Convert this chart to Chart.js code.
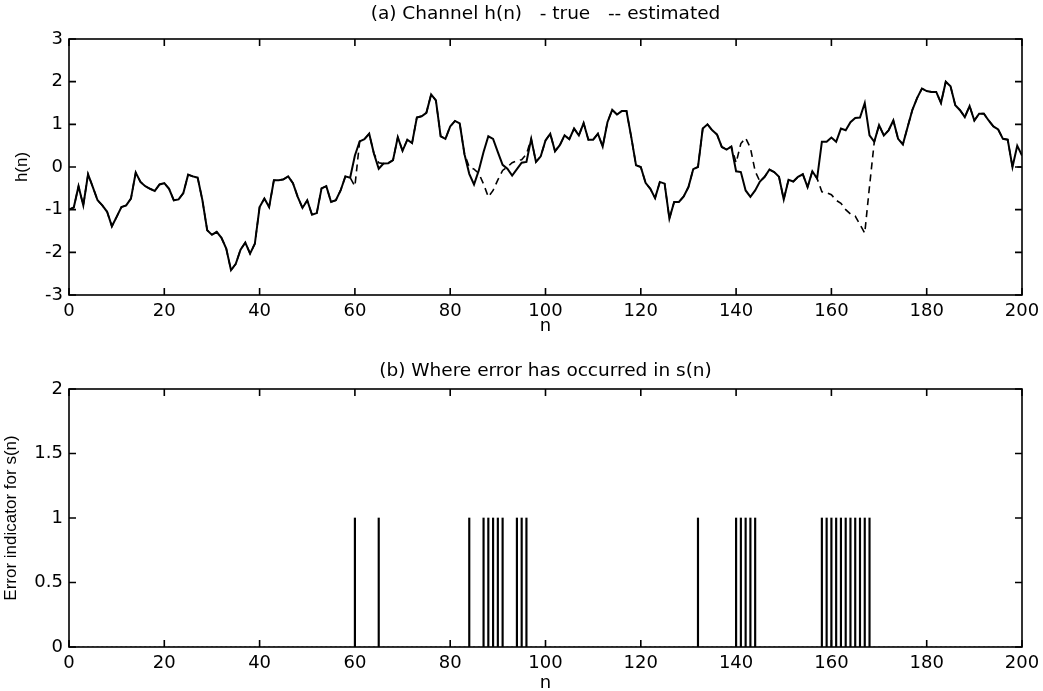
<!DOCTYPE html>
<html>
<head>
<meta charset="utf-8">
<script src="https://cdn.jsdelivr.net/npm/chart.js@4/dist/chart.umd.min.js"></script>
<style>
  html, body { margin: 0; padding: 0; background: #fff; }
  #wrap { position: relative; width: 1043px; height: 691px; overflow: hidden; }
  canvas { position: absolute; left: 0; }
  #top { top: 0; }
  #bottom { top: 340px; }
</style>
</head>
<body>
<div id="wrap">
  <canvas id="top" width="1043" height="340"></canvas>
  <canvas id="bottom" width="1043" height="351"></canvas>
</div>
<script>
// (a) channel h(n), n = 0..200
const hTrue = [
  -1.0, -0.95, -0.45, -0.9, -0.17, -0.47, -0.78, -0.9, -1.05, -1.39,
  -1.17, -0.94, -0.9, -0.74, -0.13, -0.35, -0.45, -0.51, -0.56, -0.41,
  -0.38, -0.51, -0.78, -0.76, -0.61, -0.18, -0.22, -0.25, -0.78, -1.48,
  -1.59, -1.52, -1.66, -1.91, -2.42, -2.27, -1.94, -1.77, -2.03, -1.8,
  -0.94, -0.74, -0.94, -0.31, -0.31, -0.29, -0.22, -0.38, -0.7, -0.96,
  -0.78, -1.12, -1.08, -0.5, -0.45, -0.82, -0.78, -0.55, -0.22, -0.25,
  0.27, 0.6, 0.65, 0.78, 0.31, -0.04, 0.08, 0.09, 0.16, 0.7,
  0.38, 0.64, 0.56, 1.16, 1.19, 1.27, 1.7, 1.56, 0.72, 0.66,
  0.95, 1.08, 1.02, 0.3, -0.16, -0.41, -0.08, 0.35, 0.72, 0.66,
  0.35, 0.05, -0.04, -0.2, -0.05, 0.1, 0.12, 0.66, 0.12, 0.25,
  0.62, 0.78, 0.37, 0.51, 0.74, 0.65, 0.9, 0.74, 1.03, 0.64,
  0.64, 0.78, 0.48, 1.05, 1.34, 1.23, 1.31, 1.31, 0.7, 0.04,
  0.0, -0.37, -0.51, -0.73, -0.35, -0.39, -1.21, -0.82, -0.82, -0.69,
  -0.47, -0.05, 0.0, 0.9, 1.0, 0.86, 0.76, 0.47, 0.41, 0.48,
  -0.1, -0.12, -0.55, -0.7, -0.55, -0.34, -0.23, -0.06, -0.12, -0.23,
  -0.76, -0.3, -0.34, -0.23, -0.17, -0.47, -0.1, -0.27, 0.59, 0.59,
  0.69, 0.59, 0.9, 0.86, 1.05, 1.15, 1.16, 1.5, 0.74, 0.59,
  0.98, 0.74, 0.86, 1.09, 0.66, 0.53, 0.94, 1.34, 1.62, 1.84,
  1.78, 1.76, 1.76, 1.5, 2.0, 1.89, 1.45, 1.33, 1.17, 1.43,
  1.09, 1.25, 1.25, 1.09, 0.95, 0.88, 0.66, 0.64, 0.0, 0.5,
  0.27
];
const hEst = [
  -1.0, -0.95, -0.45, -0.9, -0.17, -0.47, -0.78, -0.9, -1.05, -1.39,
  -1.17, -0.94, -0.9, -0.74, -0.13, -0.35, -0.45, -0.51, -0.56, -0.41,
  -0.38, -0.51, -0.78, -0.76, -0.61, -0.18, -0.22, -0.25, -0.78, -1.48,
  -1.59, -1.52, -1.66, -1.91, -2.42, -2.27, -1.94, -1.77, -2.03, -1.8,
  -0.94, -0.74, -0.94, -0.31, -0.31, -0.29, -0.22, -0.38, -0.7, -0.96,
  -0.78, -1.12, -1.08, -0.5, -0.45, -0.82, -0.78, -0.55, -0.22, -0.25,
  -0.45, 0.6, 0.65, 0.78, 0.31, 0.1, 0.08, 0.09, 0.16, 0.7,
  0.38, 0.64, 0.56, 1.16, 1.19, 1.27, 1.7, 1.56, 0.72, 0.66,
  0.95, 1.08, 1.02, 0.3, 0.0, -0.05, -0.15, -0.4, -0.7, -0.55,
  -0.3, -0.08, 0.0, 0.1, 0.15, 0.17, 0.3, 0.66, 0.12, 0.25,
  0.62, 0.78, 0.37, 0.51, 0.74, 0.65, 0.9, 0.74, 1.03, 0.64,
  0.64, 0.78, 0.48, 1.05, 1.34, 1.23, 1.31, 1.31, 0.7, 0.04,
  0.0, -0.37, -0.51, -0.73, -0.35, -0.39, -1.21, -0.82, -0.82, -0.69,
  -0.47, -0.05, 0.0, 0.9, 1.0, 0.86, 0.76, 0.47, 0.41, 0.48,
  0.1, 0.55, 0.68, 0.45, -0.1, -0.34, -0.23, -0.06, -0.12, -0.23,
  -0.76, -0.3, -0.34, -0.23, -0.17, -0.47, -0.1, -0.27, -0.58, -0.6,
  -0.65, -0.78, -0.85, -1.0, -1.1, -1.15, -1.35, -1.55, -0.45, 0.59,
  0.98, 0.74, 0.86, 1.09, 0.66, 0.53, 0.94, 1.34, 1.62, 1.84,
  1.78, 1.76, 1.76, 1.5, 2.0, 1.89, 1.45, 1.33, 1.17, 1.43,
  1.09, 1.25, 1.25, 1.09, 0.95, 0.88, 0.66, 0.64, 0.0, 0.0,
  0.0
];
// (b) samples where s(n) was decided wrong
const errorAt = [60, 65, 84, 87, 88, 89, 90, 91, 94, 95, 96, 132,
  140, 141, 142, 143, 144, 158, 159, 160, 161, 162, 163, 164, 165, 166, 167, 168];

const xTicks = [0, 20, 40, 60, 80, 100, 120, 140, 160, 180, 200];
const yTicksA = [-3, -2, -1, 0, 1, 2, 3];
const yTicksB = [0, 0.5, 1, 1.5, 2];

const n = hTrue.map((v, i) => i);
const errFlag = n.map(i => (errorAt.includes(i) ? 1 : 0));

const tickFont = { family: 'DejaVu Sans', size: 18 };

// matlab look: box round the axes, ticks pointing in, title over the plot
const frame = {
  id: 'frame',
  afterDatasetsDraw(chart, args, opts) {
    const { ctx, chartArea: a, scales } = chart;
    ctx.save();
    ctx.strokeStyle = '#000';
    ctx.lineWidth = 1.6;
    ctx.strokeRect(a.left, a.top, a.right - a.left, a.bottom - a.top);
    const len = 7;
    ctx.beginPath();
    scales.x.ticks.forEach(t => {
      const px = scales.x.getPixelForValue(t.value);
      ctx.moveTo(px, a.bottom); ctx.lineTo(px, a.bottom - len);
      ctx.moveTo(px, a.top); ctx.lineTo(px, a.top + len);
    });
    scales.y.ticks.forEach(t => {
      const py = scales.y.getPixelForValue(t.value);
      ctx.moveTo(a.left, py); ctx.lineTo(a.left + len, py);
      ctx.moveTo(a.right, py); ctx.lineTo(a.right - len, py);
    });
    ctx.stroke();
    ctx.fillStyle = '#000';
    ctx.font = '18.5px "DejaVu Sans"';
    ctx.textAlign = 'center';
    ctx.textBaseline = 'middle';
    ctx.fillText(opts.text, (a.left + a.right) / 2, opts.y);
    ctx.restore();
  }
};

function xAxis(h, titlePad) {
  return {
    type: 'linear', min: 0, max: 200, offset: false,
    afterBuildTicks: s => { s.ticks = xTicks.map(v => ({ value: v })); },
    afterFit: s => { s.height = h; s.paddingLeft = 0; s.paddingRight = 0; },
    grid: { display: false, drawTicks: false },
    border: { display: false },
    ticks: { color: '#000', font: tickFont, padding: 6, maxRotation: 0, autoSkip: false },
    title: { display: true, text: 'n', color: '#000',
      font: { family: 'DejaVu Sans', size: 18, lineHeight: 1 }, padding: { top: 0, bottom: titlePad } }
  };
}

function yAxis(min, max, list, label, titlePad) {
  return {
    type: 'linear', min: min, max: max,
    afterBuildTicks: s => { s.ticks = list.map(v => ({ value: v })); },
    afterFit: s => { s.width = 69; s.paddingTop = 0; s.paddingBottom = 0; },
    grid: { display: false, drawTicks: false },
    border: { display: false },
    ticks: { color: '#000', font: tickFont, padding: 6, callback: v => String(v) },
    title: { display: true, text: label, color: '#000',
      font: { family: 'Liberation Sans', size: 17, lineHeight: 1 }, padding: { top: titlePad, bottom: 0 } }
  };
}

new Chart(document.getElementById('top'), {
  type: 'line',
  data: {
    datasets: [
      {
        label: 'true',
        data: n.map(i => ({ x: i, y: hTrue[i] })),
        borderColor: '#000', borderWidth: 2, pointRadius: 0, tension: 0
      },
      {
        label: 'estimated',
        data: n.map(i => ({ x: i, y: hEst[i] })),
        borderColor: '#000', borderWidth: 1.6, borderDash: [7, 5], pointRadius: 0, tension: 0
      }
    ]
  },
  options: {
    responsive: false, animation: false, devicePixelRatio: 1,
    layout: { padding: { left: 0, right: 21, top: 39, bottom: 0 } },
    plugins: {
      legend: { display: false }, tooltip: { enabled: false },
      frame: { text: '(a) Channel h(n)   - true   -- estimated', y: 14 }
    },
    scales: {
      x: xAxis(45, 5),
      y: yAxis(-3, 3, yTicksA, 'h(n)', 14)
    }
  },
  plugins: [frame]
});

new Chart(document.getElementById('bottom'), {
  type: 'bar',
  data: {
    datasets: [{
      label: 'error',
      data: n.map(i => ({ x: i, y: errFlag[i] })),
      backgroundColor: '#000', borderWidth: 0, barThickness: 1.5
    }]
  },
  options: {
    responsive: false, animation: false, devicePixelRatio: 1,
    layout: { padding: { left: 0, right: 21, top: 49, bottom: 0 } },
    plugins: {
      legend: { display: false }, tooltip: { enabled: false },
      frame: { text: '(b) Where error has occurred in s(n)', y: 31 }
    },
    scales: {
      x: xAxis(44, -1),
      y: yAxis(0, 2, yTicksB, 'Error indicator for s(n)', 3)
    }
  },
  plugins: [frame]
});
</script>
</body>
</html>
